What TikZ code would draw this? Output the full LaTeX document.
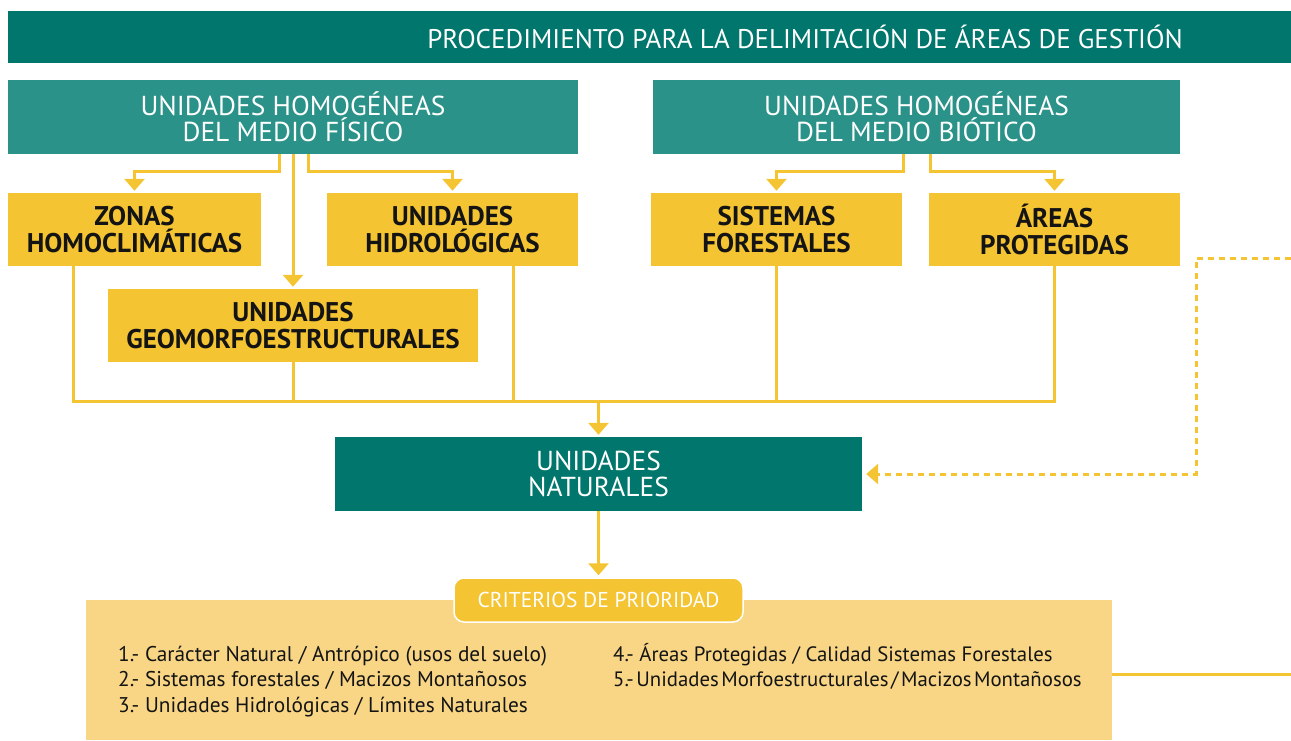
\documentclass[tikz,border=0pt]{standalone}
\usepackage{fontspec}
\setmainfont{PT Sans}
\usetikzlibrary{arrows.meta, positioning, calc}
\definecolor{darkteal}{RGB}{0,118,108}
\definecolor{lightteal}{RGB}{42,146,136}
\definecolor{gold}{RGB}{244,196,50}
\definecolor{palegold}{RGB}{248,214,133}
\definecolor{ink}{RGB}{20,20,20}

\begin{document}
\begin{tikzpicture}[x=1pt, y=-1pt,
  tealbox/.style={fill=lightteal, text=white, align=center, inner sep=0pt,
    minimum height=74pt, font=\fontsize{27.4}{26}\selectfont},
  goldbox/.style={fill=gold, text=ink, align=center, inner sep=0pt,
    minimum height=73pt, minimum width=251pt, font=\fontsize{27}{27}\selectfont\bfseries},
  link/.style={gold, line width=3pt},
  arrow/.style={link, -{Triangle[width=20pt,length=12pt]}, shorten >=2pt},
  dashlink/.style={gold, line width=3pt, dash pattern=on 6pt off 5pt,
    -{Triangle[width=20pt,length=12pt]}, shorten >=4pt},
  crittext/.style={anchor=base west, inner sep=0pt, text=ink, font=\fontsize{21.3}{25}\selectfont},
  crittight/.style={crittext, font={\fontsize{20.8}{25}\selectfont\spaceskip=2.5pt plus 1pt\relax}}
]
  \useasboundingbox (0,0) rectangle (1291,740);

  % title bar
  \fill[darkteal] (8,11) rectangle (1291,63);
  \node[text=white, font=\fontsize{27}{30}\selectfont] (title) at (805,37)
    {PROCEDIMIENTO PARA LA DELIMITACIÓN DE ÁREAS DE GESTIÓN};

  % upper level
  \node[tealbox, minimum width=570pt] (fisico) at (293,117) {UNIDADES HOMOGÉNEAS\\DEL MEDIO FÍSICO};
  \node[tealbox, minimum width=527pt] (biotico) at (916.5,117) {UNIDADES HOMOGÉNEAS\\DEL MEDIO BIÓTICO};

  \node[goldbox, minimum width=253pt] (zonas) at (134.5,229.5) {ZONAS\\HOMOCLIMÁTICAS};
  \node[goldbox] (hidro) at (452.5,229.5) {UNIDADES\\HIDROLÓGICAS};
  \node[goldbox, minimum width=370pt] (geomorfo) at (293,325.5) {UNIDADES\\GEOMORFOESTRUCTURALES};
  \node[goldbox] (sistemas) at (776.5,229.5) {SISTEMAS\\FORESTALES};
  \node[goldbox] (areas) at (1054.5,229.5) {ÁREAS\\PROTEGIDAS};

  \draw[arrow] ([xshift=-14pt]fisico.south) -- ++(0,17) -| (zonas.north);
  \draw[arrow] (fisico.south) -- (geomorfo.north);
  \draw[arrow] ([xshift=15pt]fisico.south) -- ++(0,17) -| (hidro.north);
  \draw[arrow] ([xshift=-13.5pt]biotico.south) -- ++(0,17) -| (sistemas.north);
  \draw[arrow] ([xshift=13.5pt]biotico.south) -- ++(0,17) -| (areas.north);

  % collector
  \node[fill=darkteal, text=white, align=center, inner sep=0pt, minimum width=527pt,
    minimum height=74pt, font=\fontsize{27.4}{26}\selectfont] (naturales) at (598.5,474) {UNIDADES\\NATURALES};
  \coordinate (join) at (598.5,401);
  \draw[link] ([xshift=-61.5pt]zonas.south) -- ++(0,135) -| (areas.south);
  \draw[link] (geomorfo.south) -- (geomorfo.south |- join);
  \draw[link] ([xshift=60.5pt]hidro.south) -- ([xshift=60.5pt]hidro.south |- join);
  \draw[link] (sistemas.south) -- (sistemas.south |- join);
  \draw[arrow] (join) -- (naturales.north);

  % feedback
  \coordinate (back) at (1291,258);
  \draw[dashlink] (back) -- (1196,258) |- (naturales.east);

  % criteria
  \node[fill=palegold, inner sep=0pt, minimum width=1026pt, minimum height=140pt] (crit) at (599,670) {};
  \node[fill=gold, draw=white, line width=1.5pt, rounded corners=10pt, inner sep=0pt,
    minimum width=289pt, minimum height=44pt, text=white,
    font=\fontsize{21.5}{24}\selectfont] (tab) at (598.5,600) {CRITERIOS DE PRIORIDAD};
  \draw[arrow] (naturales.south) -- (tab.north);
  \coordinate (out) at (1291,674);
  \draw[link] (crit.east |- out) -- (out);

  \node[crittext] (crit1) at (118,661) {1.- Carácter Natural / Antrópico (usos del suelo)};
  \node[crittext] (crit2) at (118,686) {2.- Sistemas forestales / Macizos Montañosos};
  \node[crittext] (crit3) at (118,712) {3.- Unidades Hidrológicas / Límites Naturales};
  \node[crittext, font=\fontsize{20.8}{25}\selectfont] (crit4) at (613,661) {4.- Áreas Protegidas / Calidad Sistemas Forestales};
  \node[crittight] (crit5) at (613,686) {5.- Unidades Morfoestructurales / Macizos Montañosos};
\end{tikzpicture}
\end{document}
